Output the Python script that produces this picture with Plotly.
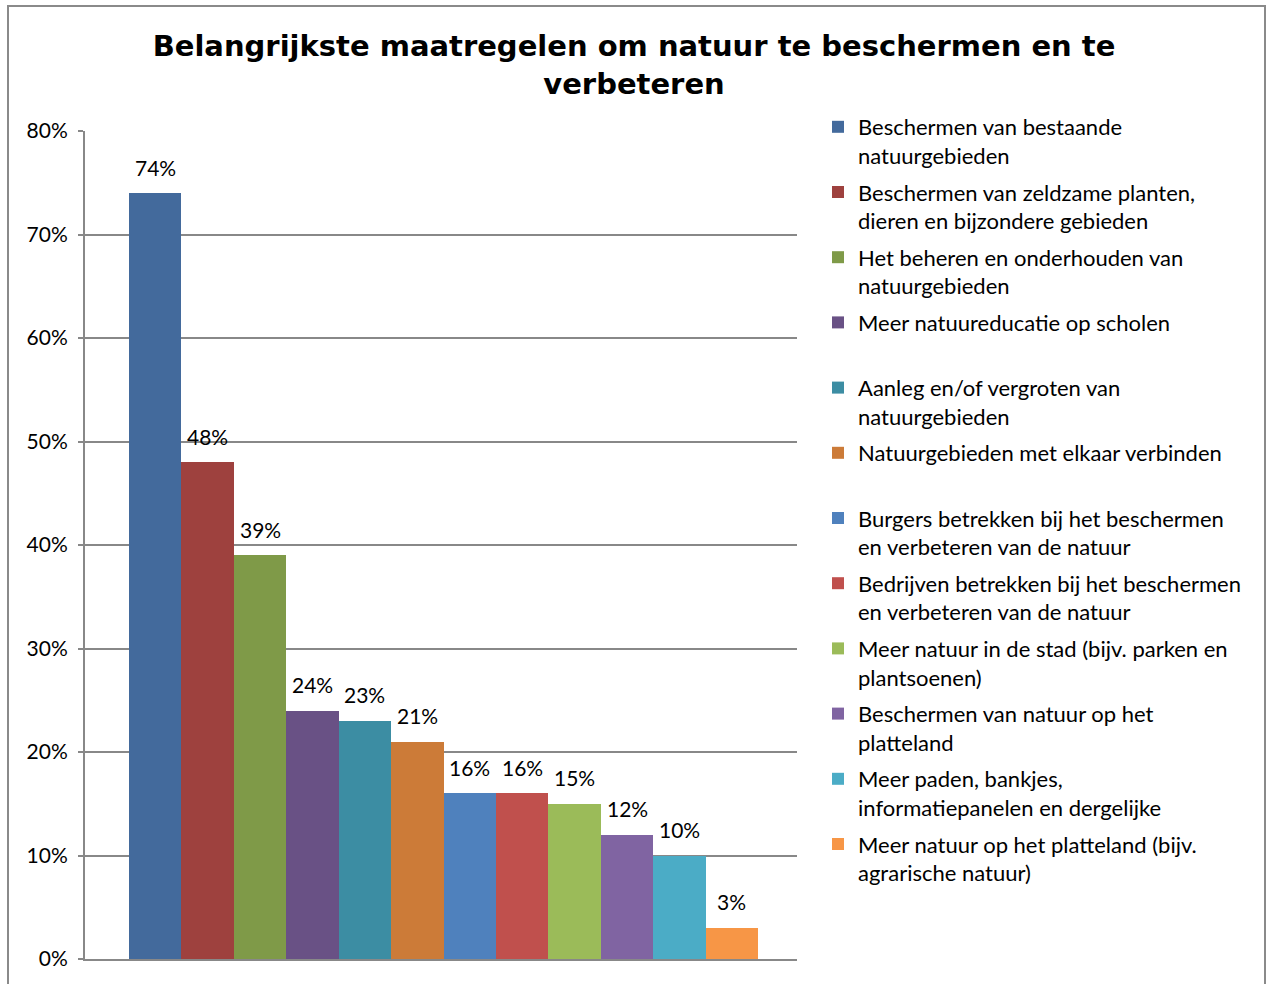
import plotly.graph_objects as go

# Data
title_text = "Belangrijkste maatregelen om natuur te beschermen en te<br>verbeteren"
maatregelen = [
    "Beschermen van bestaande<br>natuurgebieden",
    "Beschermen van zeldzame planten,<br>dieren en bijzondere gebieden",
    "Het beheren en onderhouden van<br>natuurgebieden",
    "Meer natuureducatie op scholen<br> ",
    "Aanleg en/of vergroten van<br>natuurgebieden",
    "Natuurgebieden met elkaar verbinden<br> ",
    "Burgers betrekken bij het beschermen<br>en verbeteren van de natuur",
    "Bedrijven betrekken bij het beschermen<br>en verbeteren van de natuur",
    "Meer natuur in de stad (bijv. parken en<br>plantsoenen)",
    "Beschermen van natuur op het<br>platteland",
    "Meer paden, bankjes,<br>informatiepanelen en dergelijke",
    "Meer natuur op het platteland (bijv.<br>agrarische natuur)",
]
percentages = [0.74, 0.48, 0.39, 0.24, 0.23, 0.21, 0.16, 0.16, 0.15, 0.12, 0.10, 0.03]
kleuren = [
    "#436A9C", "#9E413E", "#7F9A48", "#695185", "#3C8DA3", "#CC7B38",
    "#4F81BD", "#C0504D", "#9BBB59", "#8064A2", "#4BACC6", "#F79646",
]
y_ticks = [0, 0.1, 0.2, 0.3, 0.4, 0.5, 0.6, 0.7, 0.8]

FONT = "Lato"
GRID = "#888888"

fig = go.Figure()
for i, (naam, pct, kleur) in enumerate(zip(maatregelen, percentages, kleuren)):
    fig.add_trace(go.Bar(
        x=[i], y=[pct], name=naam, marker=dict(color=kleur, line=dict(width=0)),
        legendgroup=str(i), hoverinfo="y",
    ))
    # data label a bit above the bar, like Excel does
    fig.add_annotation(
        x=i, y=pct, text=f"{round(pct * 100)}%", showarrow=False, yshift=26,
        font=dict(family=FONT, size=21, color="black"),
    )

fig.update_layout(
    width=1268, height=984,
    margin=dict(l=85, r=471, t=131, b=25),
    paper_bgcolor="white", plot_bgcolor="white",
    barmode="overlay", bargap=0,
    font=dict(family=FONT, size=21, color="black"),
    title=dict(
        text=title_text, x=0.5, xanchor="center", xref="container",
        y=1 - 56 / 984, yanchor="top", yref="container",
        font=dict(family="DejaVu Sans", size=29, color="black", weight="bold"),
    ),
    showlegend=True,
    legend=dict(
        xref="container", yref="container", x=818 / 1268, y=1 - 106 / 984,
        xanchor="left", yanchor="top", traceorder="grouped", tracegroupgap=5,
        valign="top", maxheight=900, font=dict(family=FONT, size=22, color="black"),
        bgcolor="rgba(0,0,0,0)",
    ),
    xaxis=dict(
        range=[-1.34, 12.24], showticklabels=False, ticks="", showgrid=False,
        showline=True, linecolor=GRID, linewidth=2, zeroline=False,
    ),
    yaxis=dict(
        range=[0, 0.8], tickvals=y_ticks, tickformat=".0%", showgrid=True,
        gridcolor=GRID, gridwidth=2, showline=True, linecolor=GRID, linewidth=2,
        ticks="outside", ticklen=5, tickcolor=GRID, tickwidth=2, zeroline=False,
        ticklabelstandoff=6, tickfont=dict(family=FONT, size=21, color="black"),
    ),
    shapes=[dict(
        type="rect", xref="paper", yref="paper",
        x0=(8 - 85) / 712, x1=(1265 - 85) / 712, y0=-0.05, y1=(959 - 6) / 828,
        line=dict(color="#8a8a8a", width=2), fillcolor="rgba(0,0,0,0)", layer="below",
    )],
)

fig.write_html("out.html", config={"displayModeBar": False},
               post_script="document.body.style.margin = '0';")
